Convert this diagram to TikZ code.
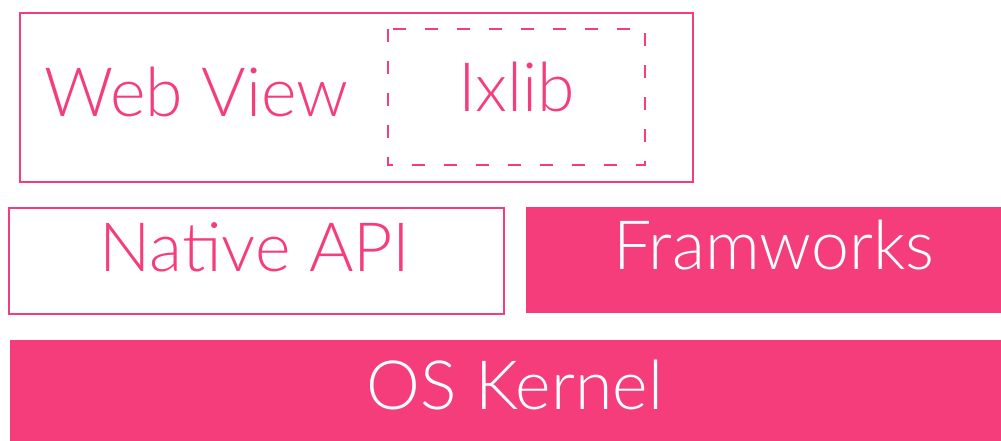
\documentclass[tikz,border=0pt]{standalone}
\usepackage{fontspec}
\setmainfont{Lato Light}
\definecolor{pinkc}{RGB}{244,61,122}
\begin{document}
\begin{tikzpicture}[x=1pt,y=-1pt,
  outl/.style={draw=pinkc,line width=2.6pt},
  dashbox/.style={draw=pinkc,line width=2.6pt,dash pattern=on 13pt off 19pt},
  solidbox/.style={fill=pinkc,draw=none},
  lbl/.style={anchor=base,inner sep=0pt,font=\fontsize{68}{68}\selectfont},
  pinktxt/.style={lbl,text=pinkc},
  whitetxt/.style={lbl,text=white}]
\useasboundingbox (0,0) rectangle (1001,441);
\draw[outl] (20,13) rectangle (693,182);
\draw[dashbox] (388,29) rectangle (645,165);
\draw[outl] (9,208) rectangle (504,314);
\fill[solidbox] (526,207) rectangle (1001,313);
\fill[solidbox] (10,340) rectangle (1001,441);
\node[pinktxt] (webview) at (196.5,117) {Web View};
\node[pinktxt] (ixlib) at (516.5,112) {Ixlib};
\node[pinktxt] (native) at (255,271) {Native API};
\node[whitetxt] (fw) at (774,269) {Framworks};
\node[whitetxt] (os) at (515,409) {OS Kernel};
\end{tikzpicture}
\end{document}
